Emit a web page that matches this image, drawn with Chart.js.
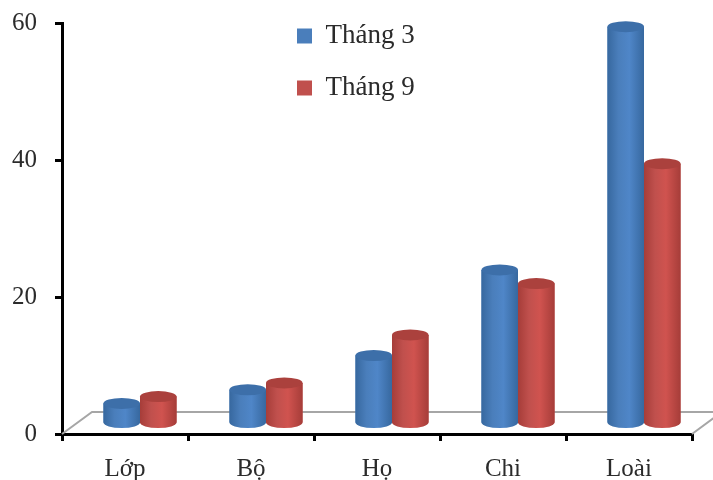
<!DOCTYPE html>
<html>
<head>
<meta charset="utf-8">
<script src="https://cdn.jsdelivr.net/npm/chart.js@4"></script>
<style>
    body { margin: 0; background: #fff; }
    canvas { filter: blur(0.5px); }
</style>
</head>
<body>
<canvas id="myChart" width="713" height="480"></canvas>
<script>
const categories = ['Lớp', 'Bộ', 'Họ', 'Chi', 'Loài'];
const thang3 = [3, 5, 10, 22.5, 58];
const thang9 = [4, 6, 13, 20.5, 38];

const fontName = '"Liberation Serif", "Times New Roman", serif';
const textColor = '#2b2b2b';
const colors = [
    { solid: '#4a7ebb', edge: '#37689f', light: '#4f86c8', cap: '#3d6fa9' },
    { solid: '#c0504d', edge: '#a63d39', light: '#d0534f', cap: '#ab413d' }
];

// fake 3d: the bars stand on a floor that sits behind and above the axis line
const depthX = 15;
const depthY = -10;
const capHeight = 5.5;

const floorPlugin = {
    id: 'floor',
    beforeDatasetsDraw(chart) {
        const ctx = chart.ctx;
        const area = chart.chartArea;
        ctx.save();
        ctx.strokeStyle = '#a6a6a6';
        ctx.lineWidth = 2;
        ctx.beginPath();
        ctx.moveTo(area.left, area.bottom);
        ctx.lineTo(area.left + 30, area.bottom - 22);
        ctx.lineTo(area.right + 30, area.bottom - 22);
        ctx.lineTo(area.right, area.bottom);
        ctx.stroke();
        ctx.restore();

        ctx.save();
        ctx.translate(depthX, depthY);
    },
    afterDatasetsDraw(chart) {
        const ctx = chart.ctx;
        chart.data.datasets.forEach((ds, i) => {
            chart.getDatasetMeta(i).data.forEach(bar => {
                drawCylinder(ctx, bar, colors[i]);
            });
        });
        ctx.restore();
    },
    afterLayout(chart) {
        // legend sits inside the plot, over the Họ column
        chart.legend.left = 272;
        chart.legend.right = 500;
        chart.legend.top = -2.5;
    }
};

function drawCylinder(ctx, bar, c) {
    const left = bar.x - bar.width / 2;
    const right = bar.x + bar.width / 2;
    const rx = bar.width / 2;

    const grad = ctx.createLinearGradient(left, 0, right, 0);
    grad.addColorStop(0, c.edge);
    grad.addColorStop(0.3, c.solid);
    grad.addColorStop(0.6, c.light);
    grad.addColorStop(1, c.edge);

    ctx.beginPath();
    ctx.moveTo(left, bar.y);
    ctx.lineTo(left, bar.base);
    ctx.ellipse(bar.x, bar.base, rx, capHeight, 0, Math.PI, 0, true);
    ctx.lineTo(right, bar.y);
    ctx.closePath();
    ctx.fillStyle = grad;
    ctx.fill();

    ctx.beginPath();
    ctx.ellipse(bar.x, bar.y, rx, capHeight, 0, 0, Math.PI * 2);
    ctx.fillStyle = c.cap;
    ctx.fill();
}

new Chart(document.getElementById('myChart'), {
    type: 'bar',
    data: {
        labels: categories,
        datasets: [
            { label: 'Tháng 3', data: thang3, backgroundColor: colors[0].solid, clip: false },
            { label: 'Tháng 9', data: thang9, backgroundColor: colors[1].solid, clip: false }
        ]
    },
    options: {
        responsive: false,
        animation: false,
        layout: { padding: { top: 23, right: 21 } },
        categoryPercentage: 0.58,
        barPercentage: 1,
        scales: {
            x: {
                afterFit: scale => { scale.height = 46; },
                border: { color: '#000', width: 3 },
                grid: { drawOnChartArea: false, color: '#000', lineWidth: 3, tickLength: 7 },
                ticks: { color: textColor, padding: 13, maxRotation: 0, font: { family: fontName, size: 25 } }
            },
            y: {
                min: 0,
                max: 60,
                afterFit: scale => {
                    scale.width = 62;
                    scale.paddingTop = 0;
                    scale.paddingBottom = 0;
                },
                border: { color: '#000', width: 3 },
                grid: { drawOnChartArea: false, color: '#000', lineWidth: 3, tickLength: 7 },
                ticks: { stepSize: 20, color: textColor, padding: 18, font: { family: fontName, size: 25 } }
            }
        },
        plugins: {
            tooltip: { enabled: false },
            legend: {
                position: 'chartArea',
                align: 'start',
                labels: {
                    boxWidth: 15,
                    boxHeight: 15,
                    padding: 25,
                    color: textColor,
                    font: { family: fontName, size: 27 }
                }
            }
        }
    },
    plugins: [floorPlugin]
});
</script>
</body>
</html>
